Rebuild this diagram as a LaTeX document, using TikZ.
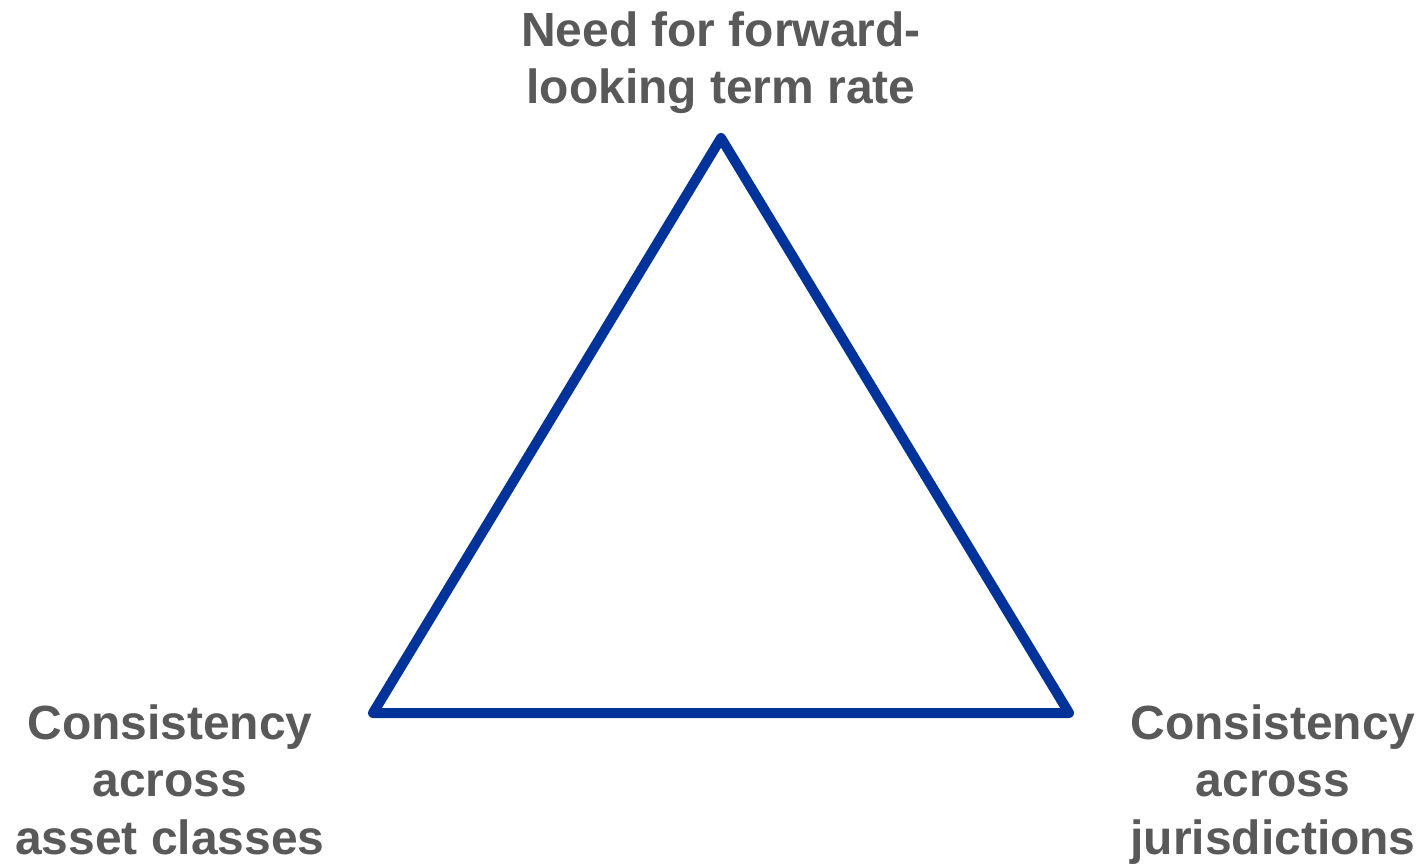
\documentclass[tikz,border=0pt]{standalone}
\usepackage{fontspec}
\setmainfont{Liberation Sans}
\definecolor{triblue}{HTML}{003399}
\definecolor{labgray}{HTML}{595959}
\begin{document}
\begin{tikzpicture}[
  lab/.style={text=labgray, font=\bfseries\fontsize{27.3}{32.8}\selectfont, align=center, inner sep=0pt, anchor=north},
  tri/.style={draw=triblue, line width=0.2cm, line join=round}
]
\useasboundingbox (0,0) rectangle (28.44,17.26);
\coordinate (apex) at (14.42,14.5);
\coordinate (bl) at (7.46,3.0);
\coordinate (br) at (21.38,3.0);
\draw[tri] (apex) -- (br) -- (bl) -- cycle;
\node[lab] (top) at (14.42,17.04) {Need for forward-\\looking term rate};
\node[lab] (left) at (3.4,3.18) {Consistency\\across\\asset classes};
\node[lab] (right) at (25.46,3.18) {Consistency\\across\\jurisdictions};
\end{tikzpicture}
\end{document}
